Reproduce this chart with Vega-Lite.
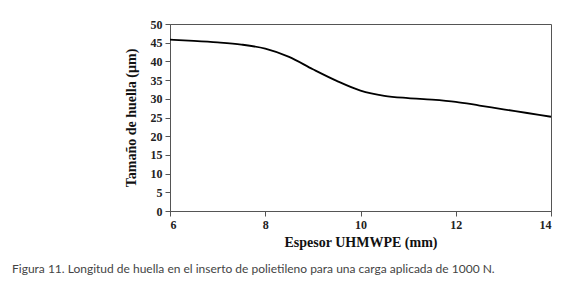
{
  "$schema": "https://vega.github.io/schema/vega-lite/v6.json",
  "autosize": {"type": "none"},
  "padding": {"left": 170, "top": 24, "right": 28, "bottom": 82},
  "width": 381,
  "height": 187,
  "background": "white",
  "title": {
    "text": "Figura 11. Longitud de huella en el inserto de polietileno para una carga aplicada de 1000 N.",
    "orient": "bottom",
    "anchor": "start",
    "frame": "group",
    "dx": -158,
    "offset": 15,
    "font": "Lato",
    "fontSize": 12,
    "fontWeight": "normal",
    "color": "#444444"
  },
  "config": {
    "view": {"stroke": "#555555", "strokeWidth": 1},
    "axis": {
      "grid": false,
      "domainColor": "#555555",
      "tickColor": "#555555",
      "labelFont": "Liberation Serif",
      "labelFontWeight": "bold",
      "labelFontSize": 12,
      "labelColor": "#222222",
      "titleFont": "Liberation Serif",
      "titleFontWeight": "bold",
      "titleFontSize": 14,
      "titleColor": "#111111",
      "tickSize": 5
    }
  },
  "data": {
    "values": [
      {"espesor": 6, "tamano": 45.8},
      {"espesor": 6.5, "tamano": 45.5},
      {"espesor": 7, "tamano": 45.1},
      {"espesor": 7.5, "tamano": 44.5},
      {"espesor": 8, "tamano": 43.4},
      {"espesor": 8.5, "tamano": 41.2},
      {"espesor": 9, "tamano": 37.9},
      {"espesor": 9.5, "tamano": 34.8},
      {"espesor": 10, "tamano": 32.2},
      {"espesor": 10.5, "tamano": 30.8},
      {"espesor": 11, "tamano": 30.2},
      {"espesor": 11.5, "tamano": 29.8},
      {"espesor": 12, "tamano": 29.2},
      {"espesor": 12.5, "tamano": 28.2},
      {"espesor": 13, "tamano": 27.2},
      {"espesor": 13.5, "tamano": 26.2},
      {"espesor": 14, "tamano": 25.2}
    ]
  },
  "mark": {"type": "line", "color": "black", "strokeWidth": 1.8, "interpolate": "monotone"},
  "encoding": {
    "x": {
      "field": "espesor",
      "type": "quantitative",
      "scale": {"domain": [6, 14], "nice": false, "zero": false},
      "axis": {"values": [6, 8, 10, 12, 14], "title": "Espesor UHMWPE (mm)", "labelPadding": 3, "titlePadding": 5}
    },
    "y": {
      "field": "tamano",
      "type": "quantitative",
      "scale": {"domain": [0, 50], "nice": false},
      "axis": {"values": [0, 5, 10, 15, 20, 25, 30, 35, 40, 45, 50], "title": "Tamaño de huella (µm)", "labelPadding": 3, "titlePadding": 12}
    }
  }
}
